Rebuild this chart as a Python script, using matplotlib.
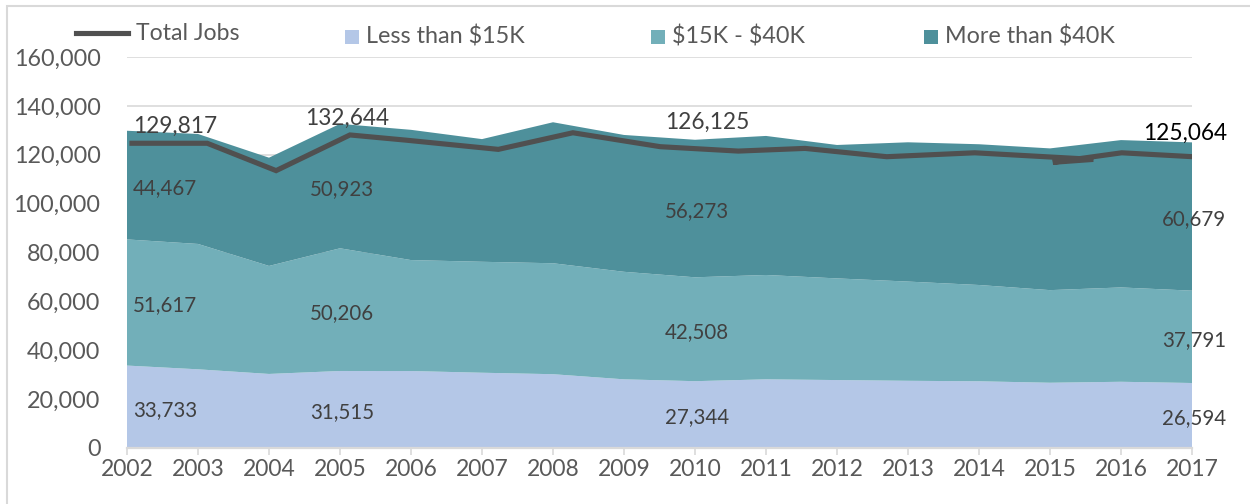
import matplotlib.pyplot as plt
import numpy as np
from matplotlib.lines import Line2D
from matplotlib.patches import Rectangle

plt.rcParams['font.family'] = ['Lato', 'DejaVu Sans']
plt.rcParams['text.parse_math'] = False

years = list(range(2002, 2018))
under_15k = [33733, 32200, 30300, 31515, 31500, 30800, 30200, 28100,
             27344, 28100, 27800, 27500, 27300, 26700, 27100, 26594]
mid_15_40k = [51617, 51300, 44200, 50206, 45400, 45400, 45400, 44000,
              42508, 42700, 41600, 40600, 39400, 37900, 38600, 37791]
over_40k = [44467, 45000, 44300, 50923, 53300, 50200, 57700, 56000,
            56273, 56900, 54600, 57000, 57600, 58000, 60300, 60679]

# the total line in the source is drawn slightly off the category positions
line_x = [2002.07, 2003.13, 2004.10, 2005.14, 2005.92, 2007.23, 2008.28, 2009.51,
          2010.61, 2011.55, 2012.70, 2013.94, 2015.61, 2015.04, 2016.01, 2017.01]
line_y = [124700, 124700, 113500, 128100, 126000, 122200, 129000, 123300,
          121500, 122600, 119200, 120800, 118100, 116900, 120800, 119200]

label_years = [2002, 2005, 2010, 2017]
series_names = ['Less than $15K', '$15K - $40K', 'More than $40K']
colors = ['#B4C7E7', '#72AFB9', '#4E909B']
line_color = '#505050'
grid_c = '#D9D9D9'
txt_c = '#595959'
lbl_c = '#404040'

W, H = 1250, 504
fig = plt.figure(figsize=(W / 100, H / 100), dpi=100)
ax = fig.add_axes([127 / W, 1 - 448 / H, (1192 - 127) / W, (448 - 57) / H])

stack = np.vstack([under_15k, mid_15_40k, over_40k])
ax.stackplot(years, stack, colors=colors, lw=0, zorder=2)
ax.plot(line_x, line_y, color=line_color, lw=3.7, solid_joinstyle='miter', zorder=4)

ax.set_xlim(2002, 2017)
ax.set_ylim(0, 160000)
ax.set_yticks(np.arange(0, 160001, 20000))
ax.set_yticklabels(['{:,}'.format(v) for v in range(0, 160001, 20000)])
ax.set_xticks(years)
ax.set_xticklabels([str(y) for y in years])
ax.grid(axis='y', color=grid_c, lw=1.2, zorder=0)
ax.set_axisbelow(True)
for s in ['top', 'right', 'left']:
    ax.spines[s].set_visible(False)
ax.spines['bottom'].set_color(grid_c)
ax.spines['bottom'].set_linewidth(1.6)
ax.spines['bottom'].set_zorder(3)
ax.tick_params(axis='y', length=0, pad=19, labelsize=16.8, labelcolor=txt_c)
ax.tick_params(axis='x', length=5, width=1.2, color=grid_c, pad=3,
               labelsize=16.5, labelcolor=txt_c)

# band labels at the middle of each band
cum = np.cumsum(stack, axis=0)
bottoms = np.vstack([np.zeros(len(years)), cum[:-1]])
for yr in label_years:
    i = years.index(yr)
    for k in range(3):
        mid = bottoms[k, i] + stack[k, i] / 2
        if yr == 2002:
            ax.annotate('{:,}'.format(stack[k, i]), (yr, mid), xytext=(6, -3),
                        textcoords='offset pixels', ha='left', va='center',
                        fontsize=14.8, color=lbl_c, zorder=5)
        else:
            ax.annotate('{:,}'.format(stack[k, i]), (yr, mid), xytext=(2, -3),
                        textcoords='offset pixels', ha='center', va='center',
                        fontsize=14.8, color=lbl_c, zorder=5, annotation_clip=False)

# totals above the stack
total_offsets = {2002: (6, 4, 'left'), 2005: (7, 6, 'center'),
                 2010: (12, 17, 'center'), 2017: (-7, 9, 'center')}
for yr in label_years:
    i = years.index(yr)
    dx, dy, ha = total_offsets[yr]
    ax.annotate('{:,}'.format(int(cum[-1, i])), (yr, cum[-1, i]), xytext=(dx, dy),
                textcoords='offset pixels', ha=ha, va='center', fontsize=16.3,
                color='black' if yr == 2017 else lbl_c, zorder=5,
                annotation_clip=False)

# legend drawn by hand to match spacing
def fx(px):
    return px / W


def fy(py):
    return 1 - py / H


fig.add_artist(Line2D([fx(76), fx(128)], [fy(32.5), fy(32.5)], color=line_color, lw=3.7))
fig.text(fx(136), fy(33), 'Total Jobs', fontsize=16.6, color=txt_c, va='center')
for px, name, c in zip([345, 651, 924], series_names, colors):
    fig.add_artist(Rectangle((fx(px), fy(44)), fx(14), 14 / H, color=c, lw=0))
    fig.text(fx(px + 21), fy(36), name, fontsize=16.8, color=txt_c, va='center')

# outer frame
fig.add_artist(Rectangle((fx(7), -0.05), 1.0, fy(6) + 0.05, fill=False,
                         edgecolor=grid_c, lw=1.5))

plt.savefig('out.png', dpi=100)
plt.close()
